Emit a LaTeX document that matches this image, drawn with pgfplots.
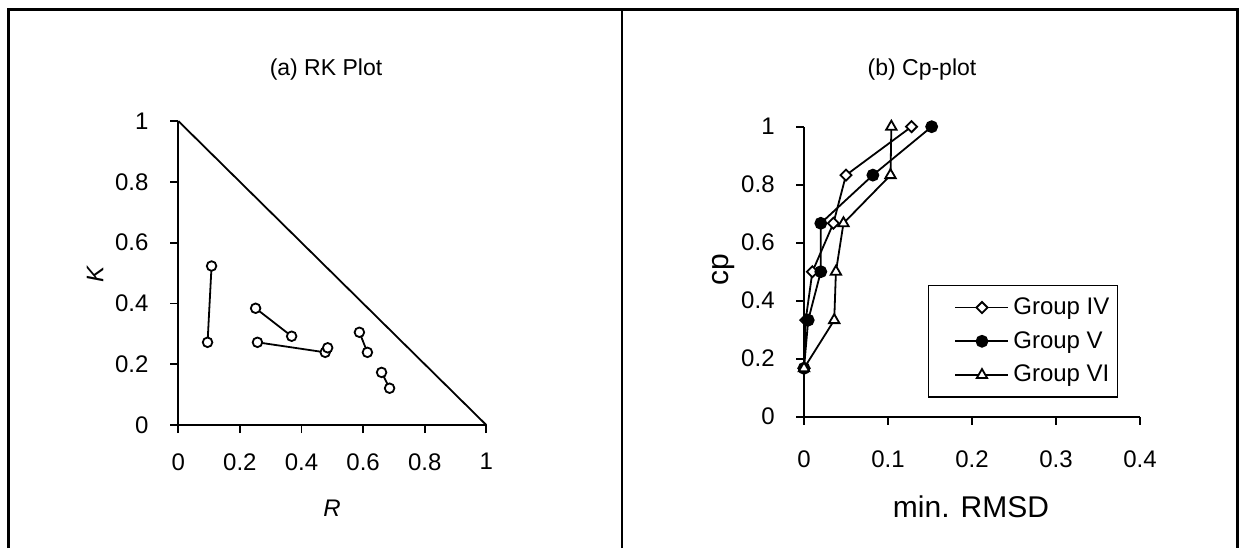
\documentclass[border=0pt]{standalone}
\usepackage{fontspec}
\setmainfont{Liberation Sans}
\usepackage{pgfplots}
\pgfplotsset{compat=1.18}
\newcommand\fa{\fontsize{11.5}{13}\selectfont}
\newcommand\ft{\fontsize{12}{14}\selectfont}
\newcommand\fb{\fontsize{15}{18}\selectfont}
\pgfplotsset{
  base/.style={
    scale only axis, axis lines=left,
    axis line style={-, line width=0.9pt, black},
    tick align=outside, major tick length=4pt,
    tick style={line width=0.9pt, black},
    /pgf/number format/assume math mode=true,
    tick label style={font=\ft, inner sep=0pt},
    clip=false,
  },
  rk/.style={black, line width=0.9pt, mark=*, mark size=2.4pt, mark options={fill=white, line width=0.9pt}},
}
\begin{document}
\begin{tikzpicture}
\useasboundingbox (0,0) rectangle (619.5pt,274pt);
\draw[line width=1.5pt] (4pt,0) -- (4pt,269.5pt) -- (618.8pt,269.5pt) -- (618.8pt,0);
\draw[line width=1.2pt] (311pt,0) -- (311pt,269.5pt);
\node[font=\fa] at (163pt,239pt) {(a) RK Plot};
\node[font=\fa] at (461pt,239pt) {(b) Cp-plot};
\node[font=\ft\itshape, rotate=90] at (47.5pt,137pt) {K};
\node[font=\ft\itshape] at (166pt,20pt) {R};
\node[font=\fb, rotate=90] at (362pt,139pt) {cp};
\node[font=\fb] at (485.5pt,20.5pt) {min. RMSD};

\begin{axis}[base, at={(89.15pt,61.5pt)}, anchor=south west,
  width=154pt, height=152pt, xmin=0, xmax=1, ymin=0, ymax=1,
  xtick={0,0.2,0.4,0.6,0.8,1}, ytick={0,0.2,0.4,0.6,0.8,1},
  yticklabel style={anchor=east, xshift=-10.7pt},
  xticklabel style={anchor=north, yshift=-10pt},
]
\addplot[black, line width=0.9pt, no marks] coordinates {(0,1)(1,0)};
\addplot[rk] coordinates {(0.108,0.523)(0.095,0.272)};
\addplot[rk] coordinates {(0.251,0.384)(0.368,0.292)};
\addplot[rk] coordinates {(0.257,0.272)(0.477,0.239)(0.485,0.254)};
\addplot[rk] coordinates {(0.588,0.305)(0.614,0.239)};
\addplot[rk] coordinates {(0.660,0.173)(0.686,0.121)};
\end{axis}

\begin{axis}[base, at={(402pt,65.65pt)}, anchor=south west,
  width=168pt, height=145pt, xmin=0, xmax=0.4, ymin=0, ymax=1,
  xtick={0,0.1,0.2,0.3,0.4}, ytick={0,0.2,0.4,0.6,0.8,1},
  yticklabel style={anchor=east, xshift=-10.5pt},
  xticklabel style={anchor=north, yshift=-13pt},
  legend style={at={(rel axis cs:0.369,0.454)}, anchor=north west, draw=black, line width=0.6pt,
    font=\ft, inner xsep=2pt, inner ysep=4pt, row sep=3pt, cells={anchor=west}},
  legend image code/.code={\path (-11pt,0pt) (26.5pt,0pt);
    \draw[mark repeat=2,mark phase=2] plot coordinates {(0pt,0pt)(13.25pt,0pt)(26.5pt,0pt)};},
]
\addplot[black, line width=0.9pt, mark=square*, mark size=1.95pt, mark options={rotate=45, fill=white, line width=0.9pt}]
  coordinates {(0,0.167)(0.002,0.333)(0.01,0.5)(0.035,0.667)(0.05,0.833)(0.128,1)};
\addlegendentry{Group IV}
\addplot[black, line width=0.9pt, mark=*, mark size=2.75pt, mark options={fill=black}]
  coordinates {(0,0.167)(0.005,0.333)(0.02,0.5)(0.02,0.667)(0.082,0.833)(0.152,1)};
\addlegendentry{Group V}
\addplot[black, line width=0.9pt, mark=triangle*, mark size=3pt, mark options={fill=white, line width=0.9pt}]
  coordinates {(0,0.167)(0.036,0.333)(0.038,0.5)(0.047,0.667)(0.103,0.833)(0.104,1)};
\addlegendentry{Group VI}
\end{axis}
\end{tikzpicture}
\end{document}
